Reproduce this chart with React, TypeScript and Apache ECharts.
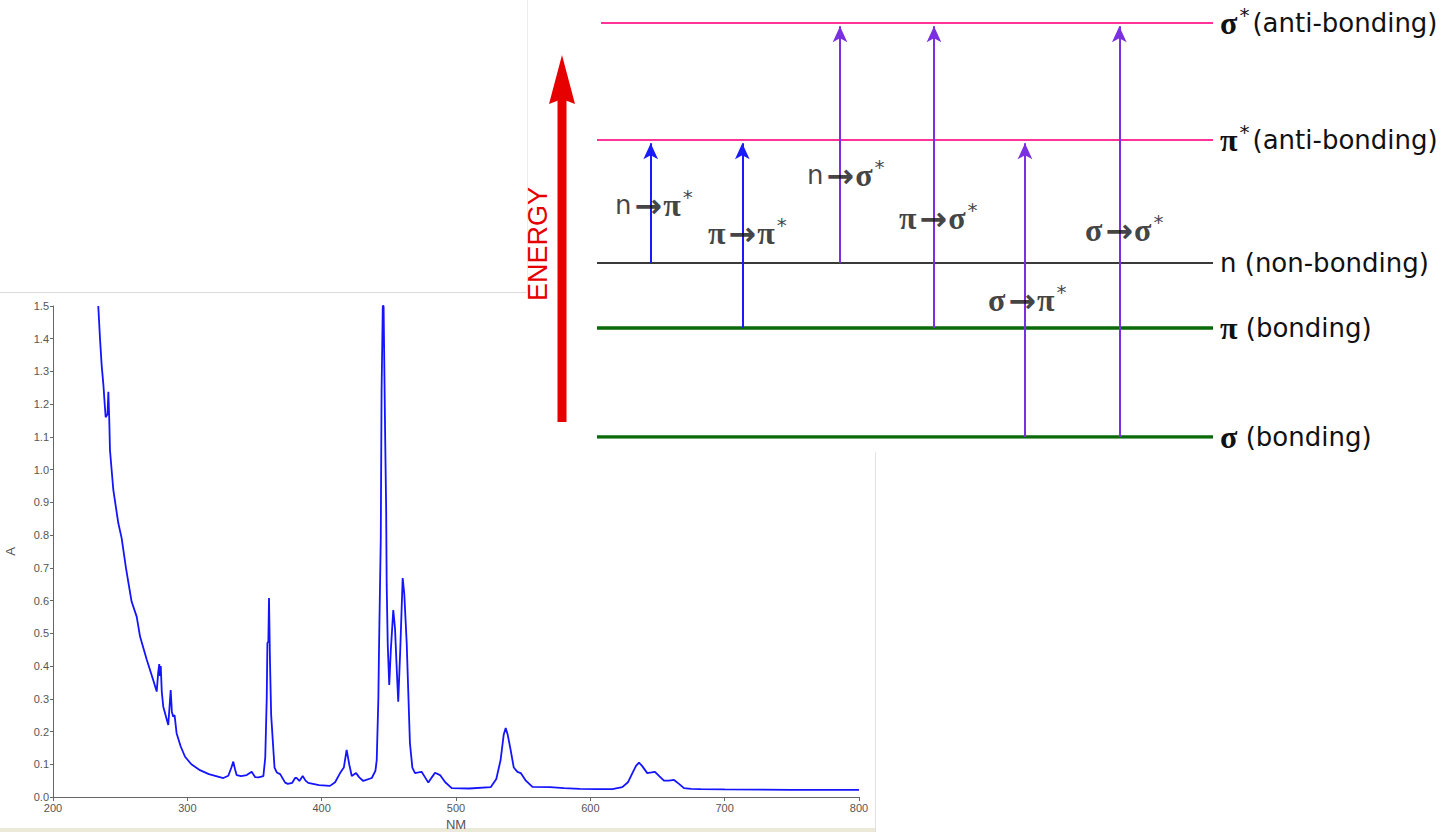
import React, { useEffect, useRef } from 'react';
import * as echarts from 'echarts';

// ---- UV-Vis spectrum ----
const wavelengths = [
  233.7, 235, 236.2, 237.5, 238.5, 239.2, 240.6, 241.2, 241.9, 242.4, 244.9, 248.6, 251.1, 254.3, 258.5,
  262.3, 264.8, 269.8, 274, 277.2, 278.3, 279.1, 279.6, 280.2, 281, 282.1, 285.8, 287, 287.6, 288.5,
  289.5, 290.5, 292, 295, 298.3, 303, 309.4, 316, 326.8, 330.5, 332.8, 334.2, 335.5, 336.7, 340,
  344.2, 347.9, 350.4, 353, 356.6, 358, 359.1, 359.6, 360.3, 360.8, 361.5, 362.4, 364.9, 366.6, 369.1,
  372.8, 374.8, 378, 380.2, 381.4, 383.4, 385.9, 388, 390, 398, 406.2, 410, 413.7, 416.5, 418.6,
  420.5, 422.4, 425.6, 428, 431, 437.3, 440, 441, 442.2, 442.7, 444, 444.6, 445.5, 446.1, 446.6, 447.3,
  448, 448.4, 449.2, 450.3, 451.5, 453.3, 454.6, 456, 457, 458.5, 460.3, 461.5, 463.3, 465.7, 467.5, 469.5, 472,
  474.4, 477, 479.4, 482, 484.4, 488.1, 492, 496.8, 510, 525.8, 530, 533.2, 535.5, 537, 538.5,
  540.7, 543, 545.7, 548.2, 552, 556.9, 570, 580.4, 592.3, 605, 616.4, 623.8, 628, 631.3, 634,
  636.2, 638.5, 642.4, 645.5, 648.1, 651.5, 654.8, 658.5, 662.3, 666, 669.7, 675, 682.2, 700, 750, 800
];
const absorbance = [
  1.5, 1.4, 1.32, 1.26, 1.2, 1.16, 1.17, 1.238, 1.15, 1.06, 0.938, 0.837, 0.791, 0.7, 0.597,
  0.551, 0.49, 0.419, 0.365, 0.322, 0.38, 0.406, 0.37, 0.4, 0.32, 0.276, 0.22, 0.29, 0.327, 0.26,
  0.245, 0.25, 0.195, 0.155, 0.123, 0.1, 0.082, 0.07, 0.058, 0.065, 0.09, 0.108, 0.085, 0.067, 0.064,
  0.067, 0.077, 0.061, 0.06, 0.064, 0.12, 0.3, 0.47, 0.475, 0.608, 0.42, 0.25, 0.09, 0.075, 0.07,
  0.044, 0.04, 0.043, 0.058, 0.058, 0.049, 0.064, 0.05, 0.043, 0.036, 0.034, 0.045, 0.073, 0.09, 0.144,
  0.1, 0.064, 0.073, 0.06, 0.049, 0.058, 0.08, 0.113, 0.3, 0.455, 0.79, 1.24, 1.5, 1.5, 1.33, 1.09,
  0.88, 0.648, 0.464, 0.342, 0.45, 0.571, 0.515, 0.38, 0.291, 0.45, 0.669, 0.62, 0.47, 0.165, 0.09, 0.073, 0.075,
  0.077, 0.06, 0.044, 0.06, 0.074, 0.067, 0.045, 0.027, 0.026, 0.03, 0.055, 0.113, 0.19, 0.211, 0.19,
  0.143, 0.09, 0.077, 0.073, 0.05, 0.031, 0.03, 0.027, 0.025, 0.024, 0.024, 0.03, 0.045, 0.073, 0.095,
  0.105, 0.095, 0.073, 0.075, 0.077, 0.063, 0.05, 0.05, 0.052, 0.04, 0.027, 0.025, 0.024, 0.023, 0.022, 0.022
];

// ---- Energy level diagram ----
const levelSymbols = ['σ', 'π', 'n', 'π', 'σ'];
const levelStars = [true, true, false, false, false];
const levelKinds = ['(anti-bonding)', '(anti-bonding)', ' (non-bonding)', ' (bonding)', ' (bonding)'];
const levelEnergy = [4.14, 2.97, 1.74, 1.09, 0];
const levelStartX = [61, 57, 57, 57, 57];
const levelEndX = 673;
const levelColors = ['#ff3399', '#ff3399', '#3a3a3a', '#0a6a0a', '#0a6a0a'];
const levelWidths = [2, 2, 2, 3.5, 3.5];

const transitionFrom = [2, 3, 2, 3, 4, 4];
const transitionTo = [1, 1, 0, 0, 1, 0];
const transitionX = [110.7, 202.3, 300, 394, 485, 579.3];
const transitionColors = ['#1a1aff', '#1a1aff', '#7a2fe0', '#7a2fe0', '#7a2fe0', '#7a2fe0'];
const transitionLabelX = [75, 168, 267, 359, 448, 545];
const transitionLabelE = [2.32, 2.04, 2.62, 2.19, 1.37, 2.07];

const TXT = '#111111';
const rich = {
  t: { fontFamily: 'DejaVu Sans', fontSize: 26, color: TXT, lineHeight: 36 },
  g: { fontFamily: 'Liberation Serif', fontWeight: 'bold', fontSize: 32, color: TXT, lineHeight: 36 },
  s: { fontFamily: 'DejaVu Sans', fontSize: 20, color: TXT, lineHeight: 18, verticalAlign: 'top', padding: [0, 3, 0, 2] },
  a: { fontFamily: 'DejaVu Sans', fontWeight: 'bold', fontSize: 33, color: TXT, lineHeight: 36, padding: [0, 1, 0, 3] }
};

const sym = (i: number) => (levelSymbols[i] === 'n' ? `{t|n}` : `{g|${levelSymbols[i]}}`);

export default function App() {
  const ref = useRef<HTMLDivElement>(null);
  useEffect(() => {
    if (!ref.current) return;
    const chart = echarts.init(ref.current, undefined, { renderer: 'svg' });

    const levelSeries = levelEnergy.map((e, i) => ({
      type: 'line',
      xAxisIndex: 1,
      yAxisIndex: 1,
      data: [[levelStartX[i], e], [levelEndX, e]],
      symbol: 'none',
      silent: true,
      lineStyle: { color: levelColors[i], width: levelWidths[i] },
      endLabel: {
        show: true,
        distance: 7,
        formatter: () => sym(i) + (levelStars[i] ? '{s|*}' : '') + `{t|${levelKinds[i]}}`,
        rich
      }
    }));

    const option: any = {
      animation: false,
      backgroundColor: '#ffffff',
      grid: [
        { left: 53, right: 584, top: 306, bottom: 35, outerBoundsMode: 'none', containLabel: false },
        { left: 540, right: 230, top: 23, bottom: 395, outerBoundsMode: 'none', containLabel: false }
      ],
      xAxis: [
        {
          gridIndex: 0, type: 'value', min: 200, max: 800, interval: 100,
          axisLine: { lineStyle: { color: '#666', width: 1 } },
          axisTick: { length: 4, lineStyle: { color: '#666' } },
          axisLabel: { color: '#555', fontSize: 11, fontFamily: 'Liberation Sans', margin: 5 },
          splitLine: { show: false },
          name: 'NM', nameLocation: 'middle', nameGap: 12,
          nameTextStyle: { color: '#555', fontSize: 13, fontFamily: 'Liberation Sans' }
        },
        { gridIndex: 1, type: 'value', min: 0, max: levelEndX, show: false }
      ],
      yAxis: [
        {
          gridIndex: 0, type: 'value', min: 0, max: 1.5, interval: 0.1,
          axisLine: { show: true, lineStyle: { color: '#666', width: 1 } },
          axisTick: { show: true, length: 3, lineStyle: { color: '#666' } },
          axisLabel: { color: '#555', fontSize: 11, fontFamily: 'Liberation Sans', margin: 4, formatter: (v: number) => v.toFixed(1) },
          splitLine: { show: false },
          name: 'A', nameLocation: 'middle', nameGap: 36, nameRotate: 90,
          nameTextStyle: { color: '#555', fontSize: 13, fontFamily: 'Liberation Sans' }
        },
        { gridIndex: 1, type: 'value', min: 0, max: 4.14, show: false }
      ],
      series: [
        {
          type: 'line',
          xAxisIndex: 0,
          yAxisIndex: 0,
          data: wavelengths.map((w, i) => [w, absorbance[i]]),
          symbol: 'none',
          silent: true,
          lineStyle: { color: '#1414ff', width: 1.8 }
        },
        ...levelSeries,
        {
          type: 'line',
          xAxisIndex: 1,
          yAxisIndex: 1,
          data: [],
          silent: true,
          markLine: {
            silent: true,
            symbol: ['none', 'arrow'],
            symbolSize: [11, 16],
            label: { show: false },
            data: transitionX.map((x, i) => [
              { coord: [x, levelEnergy[transitionFrom[i]]], lineStyle: { color: transitionColors[i], width: 2, type: 'solid' }, itemStyle: { color: transitionColors[i] } },
              { coord: [x, levelEnergy[transitionTo[i]] - 0.033] }
            ])
          }
        },
        {
          type: 'scatter',
          xAxisIndex: 1,
          yAxisIndex: 1,
          silent: true,
          symbolSize: 0,
          z: 5,
          data: transitionLabelX.map((x, i) => [x, transitionLabelE[i]]),
          label: {
            show: true,
            position: 'right',
            distance: 0,
            formatter: (p: any) => {
              const i = p.dataIndex;
              return sym(transitionFrom[i]) + '{a|→}' + sym(transitionTo[i]) + '{s|*}';
            },
            rich
          }
        }
      ],
      graphic: [
        { type: 'rect', silent: true, shape: { x: 0, y: 828, width: 876, height: 4 }, style: { fill: '#ece9d8' } },
        { type: 'line', silent: true, shape: { x1: 875.5, y1: 452, x2: 875.5, y2: 832 }, style: { stroke: '#e2e2e2', lineWidth: 1 } },
        { type: 'line', silent: true, shape: { x1: 0, y1: 292.5, x2: 527, y2: 292.5 }, style: { stroke: '#dadada', lineWidth: 1 } },
        { type: 'line', silent: true, shape: { x1: 527.5, y1: 0, x2: 527.5, y2: 292 }, style: { stroke: '#ececec', lineWidth: 1 } },
        { type: 'rect', silent: true, shape: { x: 557.5, y: 98, width: 9, height: 324 }, style: { fill: '#e60000' } },
        { type: 'polygon', silent: true, shape: { points: [[562, 55], [575, 104], [562, 99], [549, 104]] }, style: { fill: '#e60000' } },
        {
          type: 'text', silent: true, x: 538, y: 244, rotation: Math.PI / 2,
          style: { text: 'ENERGY', fill: '#e60000', font: '27px "Liberation Sans"', align: 'center', verticalAlign: 'middle' }
        }
      ]
    };
    chart.setOption(option);
    return () => chart.dispose();
  }, []);
  return <div ref={ref} style={{ position: 'fixed', left: 0, top: 0, width: 1443, height: 832 }} />;
}
